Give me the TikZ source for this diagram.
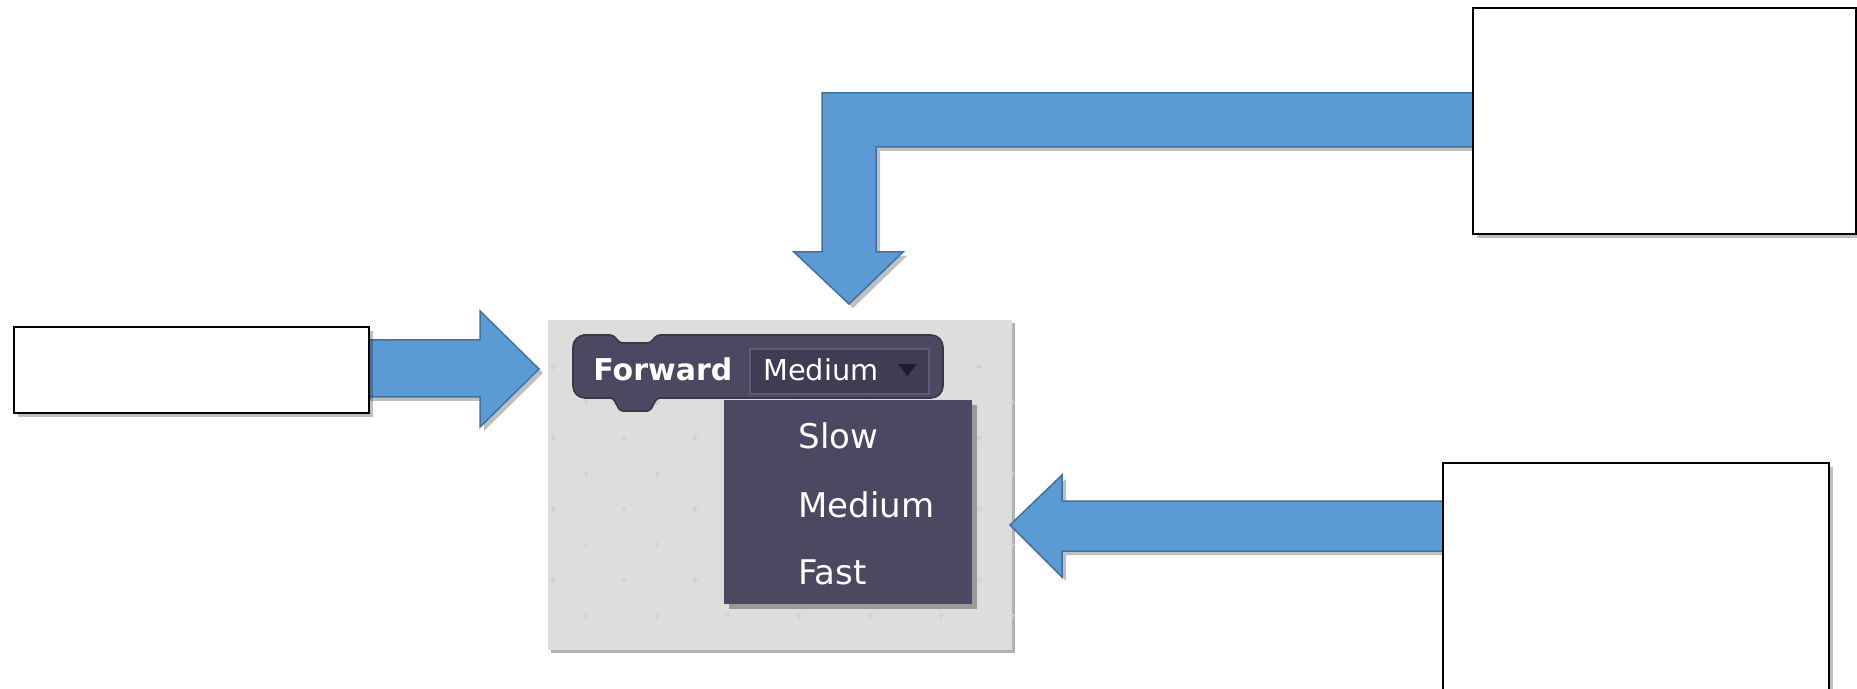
\documentclass[tikz,border=0pt]{standalone}
\usepackage{fontspec}
\newfontfamily\snapfont{DejaVu Sans}
\usetikzlibrary{shadows}

\definecolor{arrowblue}{HTML}{5B9BD5}
\definecolor{arrowedge}{HTML}{41719C}
\definecolor{panelgray}{HTML}{DCDEDB}
\definecolor{gridmark}{HTML}{D0D3D0}
\definecolor{blockfill}{HTML}{4B4861}
\definecolor{blockedge}{HTML}{393749}
\definecolor{slotfill}{HTML}{3F3C54}
\definecolor{slotedge}{HTML}{5E5B72}
\definecolor{tricolor}{HTML}{1E1D28}

\tikzset{
  softshadow/.style={drop shadow={shadow xshift=2pt, shadow yshift=-2pt, opacity=0.25, fill=black}},
  blockarrow/.style={fill=arrowblue, draw=arrowedge, line width=0.75pt, line join=miter, softshadow},
  notebox/.style={draw=black, fill=white, line width=1.2pt, inner sep=0, anchor=north west, softshadow},
  panelbox/.style={fill=panelgray, inner sep=0, anchor=north west,
    drop shadow={shadow xshift=1.5pt, shadow yshift=-1.5pt, opacity=0.3, fill=black}},
  menubox/.style={fill=blockfill, inner sep=0, anchor=north west,
    drop shadow={shadow xshift=2.5pt, shadow yshift=-2.5pt, opacity=0.3, fill=black}},
  slotbox/.style={fill=slotfill, draw=slotedge, line width=1pt, inner sep=0, anchor=north west},
  blocklabel/.style={anchor=base west, inner sep=0, text=white, font=\snapfont\bfseries\fontsize{15}{15}\selectfont},
  slotlabel/.style={anchor=base west, inner sep=0, text=white, font=\snapfont\fontsize{14.4}{14.4}\selectfont},
  menuitem/.style={anchor=base west, inner sep=0, text=white, font=\snapfont\fontsize{17}{17}\selectfont},
  gridplus/.style={draw=gridmark, line width=0.6pt},
}

\begin{document}
\begin{tikzpicture}[x=0.5pt, y=-0.5pt]
  \useasboundingbox (0,0) rectangle (1857,689);
  \clip (0,0) rectangle (1857,689);

  % scripting area with its faint grid of plus marks
  \node[panelbox, minimum width=232pt, minimum height=165pt] (panel) at (548,320) {};
  \foreach \j in {0,...,7} {
    \pgfmathsetmacro{\yy}{367+35.5*\j}
    \pgfmathsetmacro{\xo}{553+33*mod(\j,2)}
    \foreach \k in {0,...,6} {
      \pgfmathsetmacro{\xx}{\xo+71*\k}
      \draw[gridplus] (\xx-3,\yy) -- (\xx+3,\yy) (\xx,\yy-3) -- (\xx,\yy+3);
    }
  }

  % command block with top notch and bottom tab
  \draw[fill=blockfill, draw=blockedge, line width=0.8pt]
    (595,335) [rounded corners=1.5pt] -- (613,335) -- (620,343) -- (650,343) -- (657,335)
    [rounded corners=6pt] -- (943,335) -- (943,398)
    [rounded corners=1.5pt] -- (657,398) -- (650,411) -- (620,411) -- (613,398)
    [rounded corners=6pt] -- (573,398) -- (573,335) -- cycle;
  \node[blocklabel] (fwd) at (593,381) {Forward};
  \node[slotbox, minimum width=89.5pt, minimum height=22.5pt] (slot) at (749,348) {};
  \node[slotlabel] (slottext) at (763,381) {Medium};
  \fill[tricolor] (898,364) -- (917,364) -- (907.5,376) -- cycle;

  % open dropdown menu
  \node[menubox, minimum width=124pt, minimum height=102pt] (menu) at (724,400) {};
  \node[menuitem] (slow) at (798,448) {Slow};
  \node[menuitem] (medium) at (798,517) {Medium};
  \node[menuitem] (fast) at (798,584) {Fast};

  % block arrows
  \draw[blockarrow] (1480,93) -- (822,93) -- (822,252) -- (794,252) -- (849,304)
    -- (903,252) -- (876,252) -- (876,147) -- (1480,147) -- cycle;
  \draw[blockarrow] (360,340) -- (480,340) -- (480,311) -- (539,369) -- (480,427)
    -- (480,397) -- (360,397) -- cycle;
  \draw[blockarrow] (1450,501) -- (1062,501) -- (1062,475) -- (1010,525) -- (1062,577)
    -- (1062,551) -- (1450,551) -- cycle;

  % empty callout boxes
  \node[notebox, minimum width=177.5pt, minimum height=43pt] (lbox) at (13,326) {};
  \node[notebox, minimum width=191.5pt, minimum height=113pt] (trbox) at (1472,7) {};
  \node[notebox, minimum width=193pt, minimum height=135pt] (brbox) at (1442,462) {};
\end{tikzpicture}
\end{document}
